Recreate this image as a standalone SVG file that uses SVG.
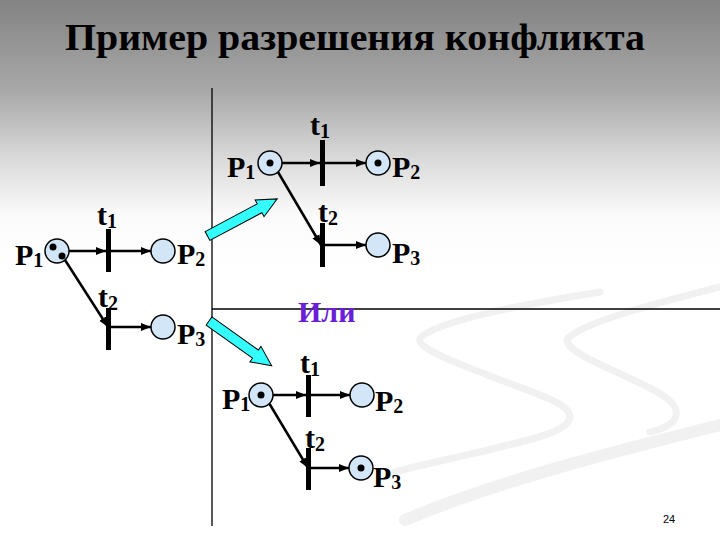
<svg xmlns="http://www.w3.org/2000/svg" width="720" height="540" viewBox="0 0 720 540">
<defs>
<linearGradient id="bg" x1="0" y1="0" x2="0" y2="540" gradientUnits="userSpaceOnUse">
<stop offset="0" stop-color="#838383"/>
<stop offset="0.17" stop-color="#a9a9a9"/>
<stop offset="0.3" stop-color="#dcdcdc"/>
<stop offset="0.4" stop-color="#fbfbfb"/>
<stop offset="0.5" stop-color="#ffffff"/>
</linearGradient>
<marker id="ah" viewBox="0 0 10 10" refX="10" refY="5" markerWidth="4" markerHeight="4" orient="auto" markerUnits="strokeWidth">
<path d="M0,1 L10,5 L0,9 z" fill="#000"/>
</marker>
<style>
.lbl{font-weight:bold;font-size:30px;fill:#000}
.sub{font-size:20px}
.pl{fill:#d2e6f7;stroke:#000;stroke-width:1.5}
.tok{fill:#000}
.tr{fill:#000}
.arc{stroke:#000;stroke-width:2.5;fill:none;marker-end:url(#ah)}
.ax{stroke:#000;stroke-width:1.3;fill:none}
.big{fill:#33ffff;stroke:#000;stroke-width:1}
.sw{fill:none;stroke:#f1f1f1;stroke-linecap:round}
</style>
</defs>
<rect x="0" y="0" width="720" height="540" fill="url(#bg)"/>
<g id="swooshes">
<path class="sw" stroke-width="7" d="M600,292 C520,305 440,320 420,338 C415,350 470,368 540,395 C585,412 580,428 520,442 C470,455 420,465 395,472"/>
<path class="sw" stroke-width="7" d="M720,287 C650,305 585,322 568,338 C560,350 610,368 650,388 C690,408 680,425 650,432"/>
<path class="sw" stroke-width="12" d="M720,425 C620,450 500,480 405,520"/>
</g>
<g font-family="Times New Roman, Liberation Serif, DejaVu Serif, serif">
<text class="lbl" x="355" y="50" text-anchor="middle" style="font-size:38px" textLength="580" lengthAdjust="spacingAndGlyphs">Пример разрешения конфликта</text>
</g>
<g id="axes">
<line class="ax" x1="212" y1="88" x2="212" y2="526"/>
<line class="ax" x1="212" y1="309" x2="720" y2="309"/>
</g>
<g id="connectors">
<line class="arc" x1="69" y1="251" x2="106" y2="251"/>
<line class="arc" x1="111" y1="251" x2="151" y2="251"/>
<line class="arc" x1="65" y1="260" x2="108" y2="327"/>
<line class="arc" x1="111" y1="327" x2="151" y2="327"/>
<line class="arc" x1="282" y1="163" x2="320" y2="163"/>
<line class="arc" x1="325" y1="163" x2="366" y2="163"/>
<line class="arc" x1="278" y1="172" x2="321" y2="245"/>
<line class="arc" x1="325" y1="245" x2="366" y2="245"/>
<line class="arc" x1="273" y1="395" x2="306" y2="395"/>
<line class="arc" x1="311" y1="395" x2="350" y2="395"/>
<line class="arc" x1="269" y1="403" x2="308" y2="468"/>
<line class="arc" x1="311" y1="468" x2="349" y2="468"/>
</g>
<g id="bigarrow1">
<polygon class="big" transform="translate(207.5,236) rotate(-28)" points="0,-5 59,-5 59,-9.5 79,0 59,9.5 59,5 0,5"/>
</g>
<g id="bigarrow2">
<polygon class="big" transform="translate(209,321) rotate(35.5)" points="0,-5 57,-5 57,-9.5 77,0 57,9.5 57,5 0,5"/>
</g>
<g font-family="Times New Roman, Liberation Serif, DejaVu Serif, serif">
<g id="L_P1"><circle class="pl" cx="57" cy="251" r="12"/><circle class="tok" cx="53" cy="247" r="3.5"/><circle class="tok" cx="62" cy="256" r="3.5"/><text class="lbl" x="15" y="265">P<tspan class="sub" dy="2">1</tspan></text></g>
<g id="L_t1"><rect class="tr" x="106" y="229" width="5" height="43"/><text class="lbl" x="97" y="225">t<tspan class="sub" dy="3">1</tspan></text></g>
<g id="L_P2"><circle class="pl" cx="163" cy="251" r="12"/><text class="lbl" x="177" y="264">P<tspan class="sub" dy="2">2</tspan></text></g>
<g id="L_t2"><rect class="tr" x="106" y="308" width="5" height="42"/><text class="lbl" x="98" y="307">t<tspan class="sub" dy="3">2</tspan></text></g>
<g id="L_P3"><circle class="pl" cx="163" cy="327" r="12"/><text class="lbl" x="177" y="344">P<tspan class="sub" dy="2">3</tspan></text></g>
<g id="A_P1"><circle class="pl" cx="270" cy="163" r="12"/><circle class="tok" cx="270" cy="163" r="3.5"/><text class="lbl" x="227" y="177">P<tspan class="sub" dy="2">1</tspan></text></g>
<g id="A_t1"><rect class="tr" x="320" y="140" width="5" height="46"/><text class="lbl" x="310" y="135">t<tspan class="sub" dy="3">1</tspan></text></g>
<g id="A_P2"><circle class="pl" cx="378" cy="163" r="12"/><circle class="tok" cx="378" cy="163" r="3.5"/><text class="lbl" x="392" y="177">P<tspan class="sub" dy="2">2</tspan></text></g>
<g id="A_t2"><rect class="tr" x="320" y="223" width="5" height="44"/><text class="lbl" x="318" y="222">t<tspan class="sub" dy="3">2</tspan></text></g>
<g id="A_P3"><circle class="pl" cx="378" cy="245" r="12"/><text class="lbl" x="392" y="263">P<tspan class="sub" dy="2">3</tspan></text></g>
<text id="ili" x="298" y="322" font-weight="bold" font-size="30" fill="#6a1fd6">Или</text>
<g id="B_P1"><circle class="pl" cx="261" cy="395" r="12"/><circle class="tok" cx="261" cy="395" r="3.5"/><text class="lbl" x="222" y="409">P<tspan class="sub" dy="2">1</tspan></text></g>
<g id="B_t1"><rect class="tr" x="306" y="375" width="5" height="42"/><text class="lbl" x="300" y="373">t<tspan class="sub" dy="3">1</tspan></text></g>
<g id="B_P2"><circle class="pl" cx="362" cy="395" r="12"/><text class="lbl" x="375" y="411">P<tspan class="sub" dy="2">2</tspan></text></g>
<g id="B_t2"><rect class="tr" x="306" y="448" width="5" height="42"/><text class="lbl" x="305" y="448">t<tspan class="sub" dy="3">2</tspan></text></g>
<g id="B_P3"><circle class="pl" cx="361" cy="468" r="12"/><circle class="tok" cx="361" cy="468" r="3.5"/><text class="lbl" x="373" y="487">P<tspan class="sub" dy="2">3</tspan></text></g>
</g>
<text x="663" y="523" font-family="Liberation Sans, Arial, sans-serif" font-size="11" fill="#000">24</text>
</svg>
